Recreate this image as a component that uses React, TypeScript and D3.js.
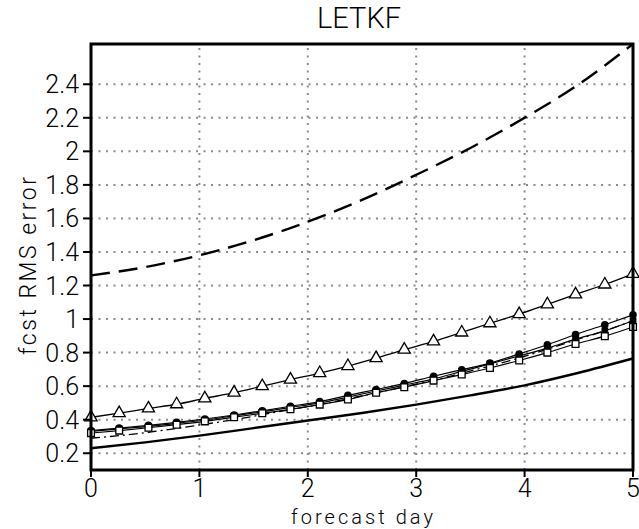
import * as d3 from "d3"

// chart values
const xTicks = [0, 1, 2, 3, 4, 5]
const yTicks = [0.2, 0.4, 0.6, 0.8, 1, 1.2, 1.4, 1.6, 1.8, 2, 2.2, 2.4]

// curves without markers, sampled every half day
const halfDays = [0, 0.5, 1, 1.5, 2, 2.5, 3, 3.5, 4, 4.5, 5]
const freeRun = [1.26, 1.31, 1.38, 1.47, 1.58, 1.71, 1.86, 2.02, 2.2, 2.4, 2.64]
const lowest = [0.23, 0.265, 0.305, 0.35, 0.395, 0.44, 0.49, 0.545, 0.605, 0.68, 0.765]

// marked series, sampled at the marker positions
const markDays = [0, 0.26, 0.53, 0.79, 1.05, 1.32, 1.58, 1.84, 2.11, 2.37, 2.63, 2.89, 3.16, 3.42, 3.68, 3.95, 4.21, 4.47, 4.74, 5]
const triangles = [0.414, 0.439, 0.467, 0.492, 0.527, 0.561, 0.6, 0.639, 0.678, 0.72, 0.767, 0.818, 0.867, 0.92, 0.975, 1.029, 1.088, 1.147, 1.206, 1.27]
const circles = [0.335, 0.35, 0.366, 0.384, 0.404, 0.428, 0.453, 0.48, 0.508, 0.545, 0.58, 0.616, 0.659, 0.698, 0.737, 0.792, 0.847, 0.908, 0.966, 1.025]
const filledSq = [0.33, 0.345, 0.36, 0.378, 0.398, 0.423, 0.447, 0.473, 0.5, 0.535, 0.571, 0.606, 0.643, 0.688, 0.733, 0.78, 0.827, 0.88, 0.93, 0.99]
const openSq = [0.32, 0.335, 0.352, 0.37, 0.39, 0.415, 0.438, 0.462, 0.49, 0.52, 0.561, 0.594, 0.633, 0.669, 0.708, 0.753, 0.8, 0.851, 0.898, 0.953]
const dashDot = [0.29, 0.305, 0.325, 0.348, 0.373, 0.4, 0.43, 0.46, 0.49, 0.525, 0.56, 0.597, 0.635, 0.677, 0.72, 0.768, 0.82, 0.875, 0.93, 0.99]

const W = 639
const H = 529
const margin = { top: 44, right: 6, bottom: 59, left: 91 }
const font = "Roboto, 'DejaVu Sans', sans-serif"

export default function App() {
	const x = d3.scaleLinear().domain([0, 5]).range([margin.left, W - margin.right])
	const y = d3.scaleLinear().domain([0.1, 2.64]).range([H - margin.bottom, margin.top])

	const line = (xs: number[], ys: number[]) =>
		d3.line<number>().x((_, i) => x(xs[i])).y(d => y(d)).curve(d3.curveMonotoneX)(ys) || ""

	const tri = d3.symbol(d3.symbolTriangle, 64)() || ""
	const sq = d3.symbol(d3.symbolSquare, 46)() || ""

	const x0 = x(0), x1 = x(5), y0 = y.range()[0], y1 = y.range()[1]

	return (
		<svg width={W} height={H} style={{ position: "absolute", left: 0, top: 0, background: "#fff" }}>
			{/* grid */}
			<g stroke="#8a8a8a" strokeWidth={2} strokeDasharray="2 5.5">
				{yTicks.map(t => <line key={"gy" + t} x1={x0} x2={x1} y1={y(t)} y2={y(t)} />)}
				{xTicks.slice(1, -1).map(t => <line key={"gx" + t} x1={x(t)} x2={x(t)} y1={y0} y2={y1} />)}
			</g>

			{/* series */}
			<path d={line(halfDays, freeRun)} fill="none" stroke="#000" strokeWidth={2.4} strokeDasharray="19 9" />
			<path d={line(halfDays, lowest)} fill="none" stroke="#000" strokeWidth={2.4} />
			<path d={line(markDays, dashDot)} fill="none" stroke="#000" strokeWidth={1.3} strokeDasharray="9 4 2 4" />
			<path d={line(markDays, circles)} fill="none" stroke="#000" strokeWidth={1.2} />
			<path d={line(markDays, filledSq)} fill="none" stroke="#000" strokeWidth={1.2} />
			<path d={line(markDays, openSq)} fill="none" stroke="#000" strokeWidth={1.2} />
			<path d={line(markDays, triangles)} fill="none" stroke="#000" strokeWidth={1.3} />

			{circles.map((v, i) => <circle key={"c" + i} cx={x(markDays[i])} cy={y(v)} r={3.8} fill="#000" />)}
			{filledSq.map((v, i) => <path key={"f" + i} d={sq} transform={`translate(${x(markDays[i])},${y(v)})`} fill="#000" />)}
			{openSq.map((v, i) => <path key={"o" + i} d={sq} transform={`translate(${x(markDays[i])},${y(v)})`} fill="#fff" stroke="#000" strokeWidth={1.3} />)}
			{triangles.map((v, i) => <path key={"t" + i} d={tri} transform={`translate(${x(markDays[i])},${y(v)})`} fill="#fff" stroke="#000" strokeWidth={1.3} />)}

			{/* frame */}
			<rect x={x0} y={y1} width={x1 - x0} height={y0 - y1} fill="none" stroke="#000" strokeWidth={3} />

			{/* axes and labels */}
			<g fontFamily={font} fontWeight={300} fontSize={25} fill="#000">
				{yTicks.map(t => (
					<g key={"ty" + t}>
						<line x1={x0 - 8} x2={x0} y1={y(t)} y2={y(t)} stroke="#000" strokeWidth={2} />
						<text x={x0 - 12} y={y(t) + 9} textAnchor="end">{String(t)}</text>
					</g>
				))}
				{xTicks.map(t => (
					<g key={"tx" + t}>
						<line x1={x(t)} x2={x(t)} y1={y0} y2={y0 + 7} stroke="#000" strokeWidth={2} />
						<text x={x(t)} y={y0 + 27} textAnchor="middle">{String(t)}</text>
					</g>
				))}
				<text x={(x0 + x1) / 2} y={524} textAnchor="middle" fontSize={20} textLength={142} lengthAdjust="spacing">forecast day</text>
				<text transform={`translate(36,266) rotate(-90)`} textAnchor="middle" fontSize={23} textLength={178} lengthAdjust="spacing">fcst RMS error</text>
				<text x={359} y={28} textAnchor="middle" fontSize={29}>LETKF</text>
			</g>
		</svg>
	)
}
